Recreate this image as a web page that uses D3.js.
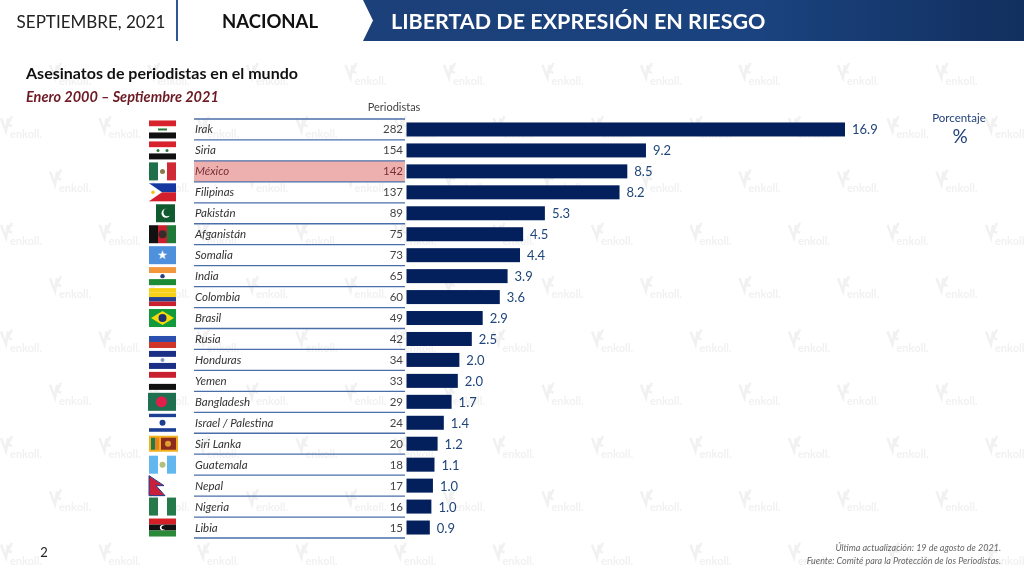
<!DOCTYPE html>
<html lang="es"><head><meta charset="utf-8">
<script src="https://cdn.jsdelivr.net/npm/d3@7"></script>
<style>html,body{margin:0;padding:0;background:#fff}svg{display:block}text{font-family:Lato,"Open Sans",sans-serif}</style>
</head><body><svg id="c" width="1024" height="576"></svg>
<script>
const countries=["Irak","Siria","México","Filipinas","Pakistán","Afganistán","Somalia","India","Colombia","Brasil","Rusia","Honduras","Yemen","Bangladesh","Israel / Palestina","Siri Lanka","Guatemala","Nepal","Nigeria","Libia"];
const counts=[282,154,142,137,89,75,73,65,60,49,42,34,33,29,24,20,18,17,16,15];
const percents=["16.9","9.2","8.5","8.2","5.3","4.5","4.4","3.9","3.6","2.9","2.5","2.0","2.0","1.7","1.4","1.2","1.1","1.0","1.0","0.9"];
const highlighted="México";
const hStripes={Irak:["#d8232f","#fff","#111"],Siria:["#d8232f","#fff","#111"],India:["#f2973b","#fff","#1d8a35"],Colombia:["#f7d117","#f7d117","#24408e","#c8202f"],Rusia:["#fff","#2a4fae","#d0352a"],Honduras:["#1c2f86","#fff","#1c2f86"],Yemen:["#c8202f","#fff","#111"],Libia:["#d32027","#111","#2b8a3a"],"Israel / Palestina":["#1c3f94","#fff","#fff","#fff","#1c3f94"]};
const vStripes={"México":["#1f6f4a","#fff","#cf2a36"],Guatemala:["#62b8ee","#fff","#62b8ee"],Nigeria:["#26794a","#fff","#26794a"]};
const svg=d3.select("#c");
const navy="#04205c",line="#4a6ea9",gray="#444";

// watermark
const wm=svg.append("g").attr("opacity",.085);
const wy=d3.range(0,10), wx=d3.range(0,11);
wy.forEach(r=>wx.forEach(c=>{
  const x=75+c*98.5-(r%2?49:0)-(r%2?0:0), y=85+r*53.3;
  const g=wm.append("g").attr("transform",`translate(${x},${y})`);
  g.append("text").attr("text-anchor","middle").attr("font-size",11).attr("font-weight",700).attr("fill","#555").text("enkoll.");
  g.append("path").attr("d","M-25,-20 L-20,-7 L-18,-20 M-14,-22 L-19,-12 M-14,-12 L-20,-15").attr("fill","none").attr("stroke","#555").attr("stroke-width",2.5);
}));

// header
const defs=svg.append("defs");
const gr=defs.append("linearGradient").attr("id","hg");
gr.append("stop").attr("offset","0").attr("stop-color","#1c4079");
gr.append("stop").attr("offset",".6").attr("stop-color","#1a437f");
gr.append("stop").attr("offset","1").attr("stop-color","#122f5e");
svg.append("path").attr("d","M363,0H1024V41H363L373,20.5Z").attr("fill","url(#hg)");
svg.append("rect").attr("x",176).attr("y",0).attr("width",2).attr("height",41).attr("fill","#2f5597");
svg.append("text").attr("x",91).attr("y",27.5).attr("text-anchor","middle").attr("font-size",17).attr("fill","#222").text("SEPTIEMBRE, 2021");
svg.append("text").attr("x",270).attr("y",28).attr("text-anchor","middle").attr("font-size",18.5).attr("font-weight",700).attr("fill","#111").text("NACIONAL");
svg.append("text").attr("x",391).attr("y",29).attr("font-size",21.5).attr("font-weight",700).attr("fill","#fff").text("LIBERTAD DE EXPRESIÓN EN RIESGO");
svg.append("text").attr("x",26).attr("y",79).attr("font-size",16).attr("font-weight",700).attr("fill","#111").text("Asesinatos de periodistas en el mundo");
svg.append("text").attr("x",26).attr("y",102).attr("font-size",14.5).attr("font-weight",700).attr("font-style","italic").attr("fill","#6d1a24").text("Enero 2000 – Septiembre 2021");
svg.append("text").attr("x",394).attr("y",111).attr("text-anchor","middle").attr("font-size",11).attr("fill","#444").text("Periodistas");
svg.append("text").attr("x",959).attr("y",122).attr("text-anchor","middle").attr("font-size",11.5).attr("fill","#1f3f77").text("Porcentaje");
svg.append("text").attr("x",960).attr("y",143).attr("text-anchor","middle").attr("font-size",19).attr("fill","#1f3f77").text("%");

// scales
const y=d3.scaleBand().domain(countries).range([119,538]);
const x=d3.scaleLinear().domain([0,282]).range([406.5,845]);

svg.append("rect").attr("x",194).attr("width",211).attr("y",y(highlighted)).attr("height",y.bandwidth()).attr("fill","#eeb0ae");

svg.append("g").selectAll("line").data([null,...countries]).join("line")
  .attr("x1",194).attr("x2",405)
  .attr("y1",d=>d?y(d)+y.bandwidth():y.range()[0])
  .attr("y2",d=>d?y(d)+y.bandwidth():y.range()[0])
  .attr("stroke",line).attr("stroke-width",1.3);

const rows=countries.map((c,i)=>({c,n:counts[i],p:percents[i]}));
const cy=d=>y(d.c)+y.bandwidth()/2;
svg.append("g").selectAll("text").data(rows).join("text").attr("x",195).attr("y",d=>cy(d)+4).attr("font-size",11.5).attr("font-style","italic").attr("fill",d=>d.c===highlighted?"#7a3038":"#333").text(d=>d.c);
svg.append("g").selectAll("text").data(rows).join("text").attr("x",403).attr("y",d=>cy(d)+4).attr("text-anchor","end").attr("font-size",11.5).attr("fill",d=>d.c===highlighted?"#7a3038":gray).text(d=>d.n);
svg.append("g").selectAll("rect").data(rows).join("rect").attr("x",x(0)).attr("y",d=>cy(d)-7).attr("width",d=>x(d.n)-x(0)).attr("height",14).attr("fill",navy);
svg.append("g").selectAll("text").data(rows).join("text").attr("x",d=>x(d.n)+7).attr("y",d=>cy(d)+5).attr("font-size",13).attr("fill","#1f4579").text(d=>d.p);

// flags
const fx=149,fw=27,fh=18;
const flag=svg.append("g");
rows.forEach(d=>{
  const g=flag.append("g").attr("transform",`translate(${fx},${cy(d)-fh/2})`);
  const r=(a,b,w,h,f)=>g.append("rect").attr("x",a).attr("y",b).attr("width",w).attr("height",h).attr("fill",f);
  const c=(a,b,q,f)=>g.append("circle").attr("cx",a).attr("cy",b).attr("r",q).attr("fill",f);
  if(hStripes[d.c]){const s=hStripes[d.c];s.forEach((f,i)=>r(0,i*fh/s.length,fw,fh/s.length,f));}
  if(vStripes[d.c]){const s=vStripes[d.c];s.forEach((f,i)=>r(i*fw/s.length,0,fw/s.length,fh,f));}
  if(d.c==="Irak")r(9,8,9,2,"#2a7a3a");
  if(d.c==="Siria"){c(9,9,1.5,"#2a7a3a");c(18,9,1.5,"#2a7a3a");}
  if(d.c==="México")c(13.5,9,2.5,"#8a7a4a");
  if(d.c==="India")c(13.5,9,2.2,"#2a3f86");
  if(d.c==="Guatemala")c(13.5,9,3,"#b0c080");
  if(d.c==="Honduras")c(13.5,9,2,"#8a9ac8");
  if(d.c==="Israel / Palestina")c(13.5,9,3,"#1c3f94");
  if(d.c==="Libia"){c(13.5,9,2.6,"#fff");c(14.5,9,2,"#111");}
  if(d.c==="Filipinas"){r(0,0,fw,9,"#1437a0");r(0,9,fw,9,"#d3202c");g.append("path").attr("d",`M0,0L13,9L0,18Z`).attr("fill","#fff");c(4,9,1.8,"#f5c518");}
  if(d.c==="Pakistán"){r(7,0,19,fh,"#0f5a2e");c(17,9,4.5,"#fff");c(18.5,8,4,"#0f5a2e");}
  if(d.c==="Afganistán"){r(0,0,9,fh,"#111");r(9,0,9,fh,"#c8202f");r(18,0,9,fh,"#1f7a3a");c(13.5,9,4,"#3a2a2a");}
  if(d.c==="Somalia"){r(0,0,fw,fh,"#4f90dc");g.append("text").attr("x",13.5).attr("y",13).attr("text-anchor","middle").attr("font-size",12).attr("fill","#fff").text("★");}
  if(d.c==="Brasil"){r(0,0,fw,fh,"#129a3c");g.append("path").attr("d","M13.5,2L25,9L13.5,16L2,9Z").attr("fill","#f5d90a");c(13.5,9,4,"#1c2f70");}
  if(d.c==="Bangladesh"){r(-1,0,fw+1,fh,"#1f7050");c(12.5,9,5.5,"#e0204a");}
  if(d.c==="Siri Lanka"){r(0,1,29,16,"#f2b01e");r(2,3,4,12,"#1d7a4a");r(6,3,4,12,"#e8801e");r(12,3,15,12,"#8c2a1e");c(19,9,3,"#e0a030");}
  if(d.c==="Nepal"){g.append("path").attr("d","M0,-1L15,9H7L16,19H0Z").attr("fill","#c8203a").attr("stroke","#1c3f94").attr("stroke-width",1);}
});

svg.append("text").attr("x",44).attr("y",557).attr("text-anchor","middle").attr("font-size",13).attr("fill","#222").text("2");
svg.append("text").attr("x",1001).attr("y",551).attr("text-anchor","end").attr("font-size",9).attr("font-style","italic").attr("fill","#666").text("Última actualización: 19 de agosto de 2021.");
svg.append("text").attr("x",1001).attr("y",564).attr("text-anchor","end").attr("font-size",9).attr("font-style","italic").attr("fill","#666").text("Fuente: Comité para la Protección de los Periodistas.");
</script></body></html>
